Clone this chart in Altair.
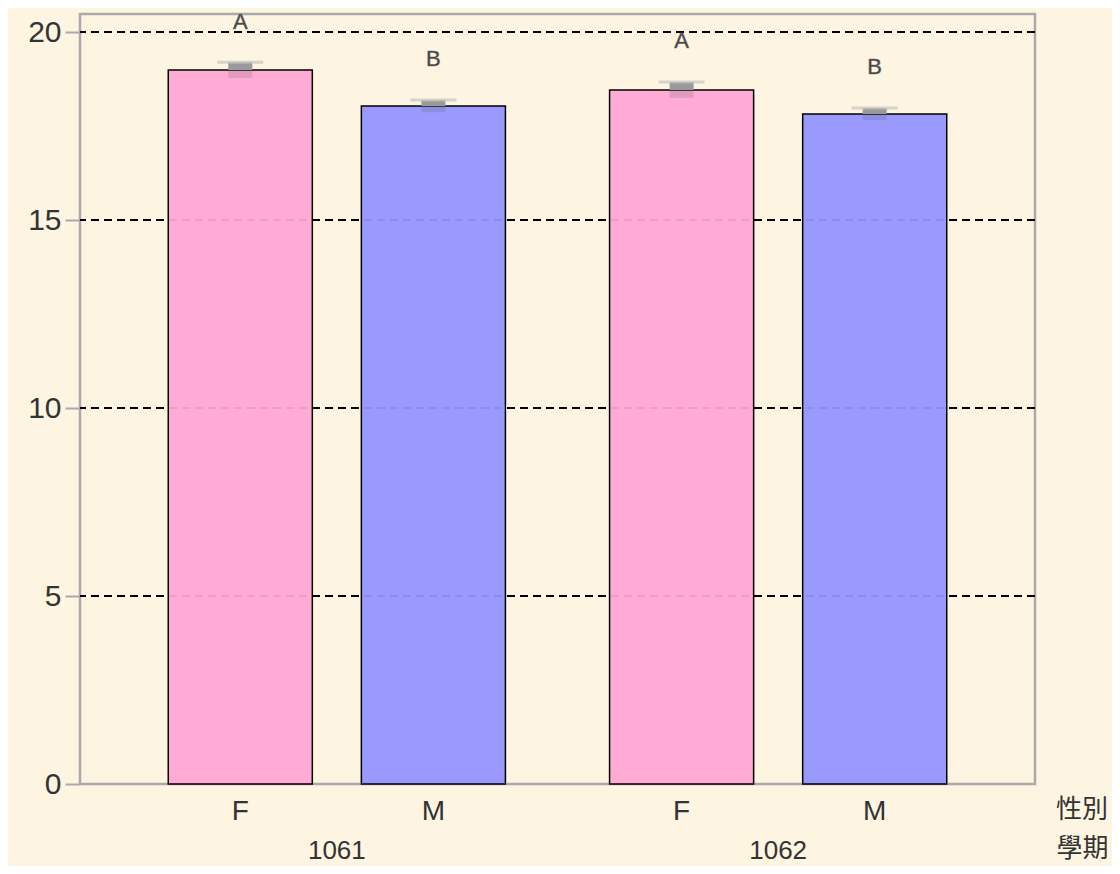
import altair as alt
import pandas as pd

terms = ["1061", "1061", "1062", "1062"]
sexes = ["F", "M", "F", "M"]
means = [18.99, 18.03, 18.46, 17.82]
ses = [0.21, 0.16, 0.21, 0.16]
letters = ["A", "B", "A", "B"]
grid_vals = [5, 10, 15, 20]
y_ticks = [0, 5, 10, 15, 20]

df = pd.DataFrame({"term": terms, "sex": sexes, "mean": means, "se": ses, "letter": letters})
df["upper"] = df["mean"] + df["se"]
df["lower"] = df["mean"] - df["se"]
df["lety"] = df["upper"] + 1.08
gdf = pd.DataFrame({"g": grid_vals})

W, H = 955, 770
FONT = "Liberation Sans"

xs = alt.X("term:N", scale=alt.Scale(paddingInner=0.236, paddingOuter=0.2),
           axis=alt.Axis(title="學期", labelFontSize=26, labelColor="#333", labelPadding=53,
                         labelBaseline="top",
                         ticks=False, domain=False, labelAngle=0, labelFont=FONT,
                         titleFont="Noto Sans CJK TC", titleFontSize=26, titleFontWeight="normal",
                         titleColor="#333", titleX=1002, titleY=64, titleAlign="center",
                         titleBaseline="middle", titleAnchor="start"))
xo = alt.XOffset("sex:N", scale=alt.Scale(paddingInner=0.254, paddingOuter=0))
ysc = alt.Scale(domain=[0, 20.48], nice=False)
yax = alt.Axis(title=None, values=y_ticks, grid=False, domain=False, tickColor="#aaaaaa",
               tickSize=15, tickWidth=2, labelFontSize=30, labelColor="#333", labelPadding=4,
               labelFont=FONT)

base = alt.Chart(df)

grid = alt.Chart(gdf).mark_rule(color="black", strokeDash=[8, 5], strokeWidth=2).encode(
    y=alt.Y("g:Q", scale=ysc, axis=yax))

bars = base.mark_bar(stroke="black", strokeWidth=1.5, fillOpacity=0.94).encode(
    x=xs, xOffset=xo,
    y=alt.Y("mean:Q", scale=ysc, axis=yax),
    color=alt.Color("sex:N", scale=alt.Scale(domain=["F", "M"], range=["#ffa6d3", "#9494ff"]), legend=None))

err_lo = base.mark_bar(size=24, color="#555555", opacity=0.18).encode(
    x=xs, xOffset=xo, y=alt.Y("lower:Q", scale=ysc), y2="mean:Q")
err_hi = base.mark_bar(size=24, color="#9a9a9a").encode(
    x=xs, xOffset=xo, y=alt.Y("mean:Q", scale=ysc), y2="upper:Q")
cap = base.mark_tick(size=46, thickness=3, color="#c4c4c4").encode(
    x=xs, xOffset=xo, y=alt.Y("upper:Q", scale=ysc))

lets = base.mark_text(fontSize=22, color="#3a3a3a", font=FONT, baseline="middle",
                      stroke="#777", strokeWidth=0.6).encode(
    x=xs, xOffset=xo, y=alt.Y("lety:Q", scale=ysc), text="letter:N")

sexlab = base.mark_text(fontSize=28, color="#333", font=FONT, baseline="middle").encode(
    x=xs, xOffset=xo, y=alt.value(H + 28), text="sex:N")

sextitle = alt.Chart(pd.DataFrame({"t": ["性別"]})).mark_text(
    fontSize=26, color="#333", font="Noto Sans CJK TC", baseline="middle", align="center").encode(
    x=alt.value(1002), y=alt.value(H + 26), text="t:N")

chart = alt.layer(grid, bars, err_lo, err_hi, cap, lets, sexlab, sextitle).properties(
    width=W, height=H,
    autosize=alt.AutoSizeParams(type="none"),
    padding={"left": 72, "top": 6, "right": 77, "bottom": 82},
    background="#fdf5e1",
).configure_view(fill="#fdf5e1", stroke="#aaaaaa", strokeWidth=2.5)

chart.save("out.html", embed_options={"renderer": "svg", "actions": False})
